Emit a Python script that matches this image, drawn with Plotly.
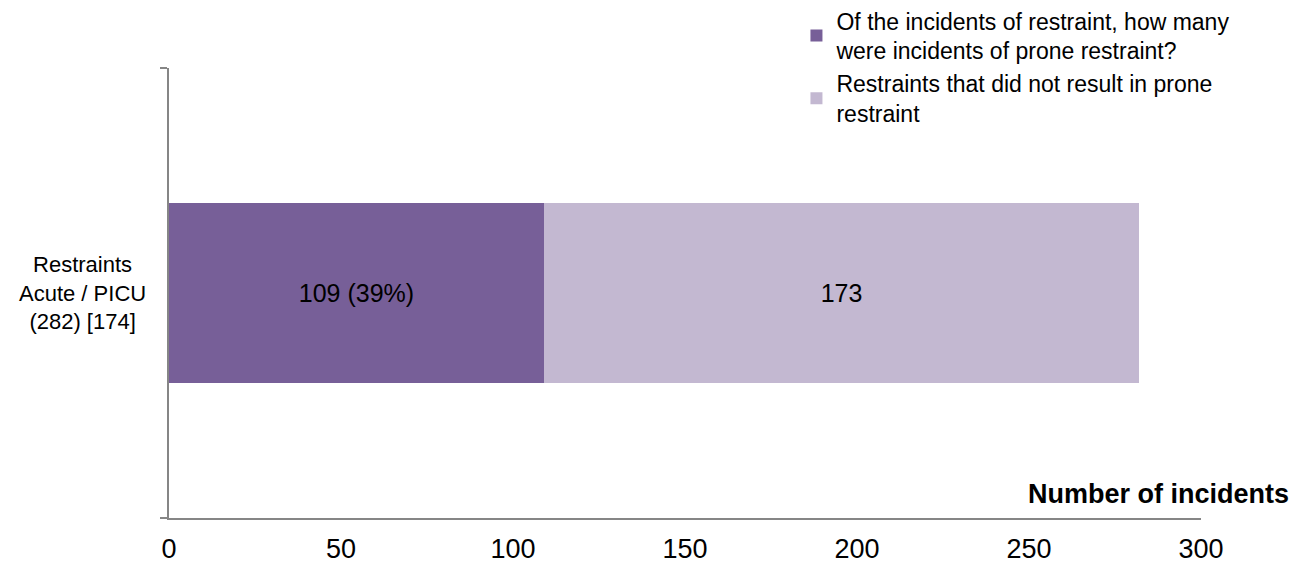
import plotly.graph_objects as go

categories = ["Restraints<br>Acute / PICU<br>(282) [174]"]
prone = [109]
not_prone = [173]
prone_labels = ["109 (39%)"]
not_prone_labels = ["173"]
series_names = [
    "Of the incidents of restraint, how many<br>were incidents of prone restraint?",
    "Restraints that did not result in prone<br>restraint",
]
x_ticks = [0, 50, 100, 150, 200, 250, 300]

FONT = "Liberation Sans, Arial, sans-serif"
AXIS = "#868686"

fig = go.Figure()
fig.add_trace(go.Bar(
    y=[0], x=prone, orientation="h", name=series_names[0],
    marker=dict(color="#775F98", line=dict(width=0)),
    text=prone_labels, textposition="inside", insidetextanchor="middle",
    textfont=dict(color="#000000", size=25, family=FONT), width=0.4,
))
fig.add_trace(go.Bar(
    y=[0], x=not_prone, orientation="h", name=series_names[1],
    marker=dict(color="#C3B8D1", line=dict(width=0)),
    text=not_prone_labels, textposition="inside", insidetextanchor="middle",
    textfont=dict(color="#000000", size=25, family=FONT), width=0.4,
))

fig.update_layout(
    width=1293, height=564,
    margin=dict(l=169, r=92, t=68, b=46, autoexpand=False),
    barmode="stack",
    paper_bgcolor="white", plot_bgcolor="white",
    font=dict(family=FONT, size=22, color="#000000"),
    showlegend=True,
    legend=dict(
        x=0.608, y=1.153, xanchor="left", yanchor="top",
        traceorder="normal", font=dict(size=23, family=FONT),
        itemwidth=30, tracegroupgap=0, bgcolor="rgba(0,0,0,0)",
    ),
    xaxis=dict(
        range=[0, 300], tickvals=x_ticks, showgrid=False, zeroline=False,
        showline=True, linecolor=AXIS, linewidth=2, ticks="",
        tickfont=dict(size=27, family=FONT), ticklabelstandoff=6,
        fixedrange=True,
    ),
    yaxis=dict(
        range=[-0.5, 0.5], tickvals=[0], ticktext=[""], ticks="",
        showgrid=False, zeroline=False, showline=True, linecolor=AXIS,
        linewidth=2,
        minor=dict(tickvals=[-0.5, 0.5], ticks="outside", ticklen=7,
                   tickcolor=AXIS, tickwidth=2, showgrid=False),
    ),
    annotations=[
        dict(text=categories[0], xref="paper", yref="y", x=-0.0843, y=0,
             xanchor="center", yanchor="middle", align="center",
             showarrow=False, font=dict(size=22, family=FONT)),
        dict(text="<b>Number of incidents</b>", xref="paper", yref="paper",
             x=1.087, y=0, xanchor="right", yanchor="bottom", yshift=7,
             showarrow=False, font=dict(size=27, family=FONT)),
    ],
)

fig.write_html("out.html")
